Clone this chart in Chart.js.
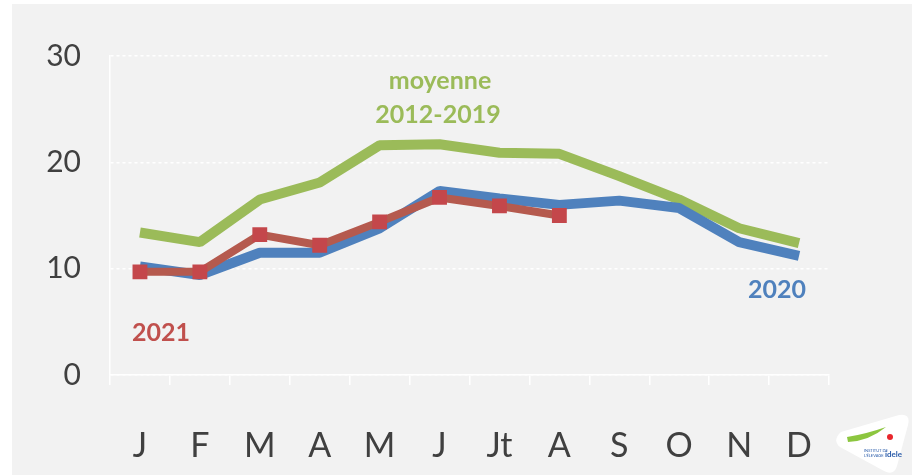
<!DOCTYPE html>
<html>
<head>
<meta charset="utf-8">
<script src="https://cdn.jsdelivr.net/npm/chart.js@4/dist/chart.umd.min.js"></script>
<style>
html,body{margin:0;padding:0;background:#ffffff;}
#c{display:block;}
</style>
</head>
<body>
<canvas id="c" width="912" height="475"></canvas>
<script>
const categories = ['J','F','M','A','M','J','Jt','A','S','O','N','D'];
const moyenne2012_2019 = [13.4,12.5,16.5,18.1,21.6,21.7,20.9,20.8,18.7,16.5,13.8,12.4];
const serie2020 = [10.2,9.4,11.5,11.5,13.8,17.3,16.6,16.0,16.4,15.7,12.5,11.2];
const serie2021 = [9.7,9.7,13.2,12.2,14.4,16.7,15.9,15.0,null,null,null,null];
const yTicks = [0,10,20,30];

const GREEN = '#9bbb59', BLUE = '#4f81bd', RED_LINE = '#b55a4e', RED_PT = '#c4474b';
const TXT_FONT = 'Lato, "Open Sans", "DejaVu Sans", sans-serif';

const bgPlugin = {
  id: 'bg',
  beforeDraw(chart) {
    const ctx = chart.ctx;
    ctx.save();
    ctx.fillStyle = '#ffffff';
    ctx.fillRect(0, 0, chart.width, chart.height);
    ctx.fillStyle = '#f2f2f2';
    ctx.fillRect(12, 4, chart.width - 12, chart.height - 4);
    ctx.restore();
  }
};

const annotPlugin = {
  id: 'annot',
  afterDraw(chart) {
    const ctx = chart.ctx;
    ctx.save();
    ctx.font = 'bold 25px ' + TXT_FONT;
    ctx.textAlign = 'center';
    ctx.textBaseline = 'alphabetic';
    ctx.fillStyle = GREEN;
    ctx.fillText('moyenne', 440, 89);
    ctx.fillText('2012-2019', 438, 123);
    ctx.fillStyle = '#c0504d';
    ctx.fillText('2021', 161, 341);
    ctx.fillStyle = BLUE;
    ctx.fillText('2020', 777, 298);

    // logo badge
    ctx.beginPath();
    ctx.moveTo(841, 432);
    ctx.quadraticCurveTo(832, 440, 840, 447);
    ctx.lineTo(884, 471);
    ctx.quadraticCurveTo(894, 476, 897, 466);
    ctx.lineTo(908, 425);
    ctx.quadraticCurveTo(911, 413, 899, 415);
    ctx.closePath();
    ctx.fillStyle = '#ffffff';
    ctx.fill();
    // swoosh
    ctx.beginPath();
    ctx.moveTo(847, 437);
    ctx.quadraticCurveTo(866, 434, 886, 427);
    ctx.quadraticCurveTo(869, 441, 848, 442);
    ctx.closePath();
    ctx.fillStyle = '#8cc63f';
    ctx.fill();
    ctx.fillStyle = '#e8262c';
    ctx.beginPath();
    ctx.arc(890, 437, 3, 0, Math.PI * 2);
    ctx.fill();
    ctx.font = 'bold 8px ' + TXT_FONT;
    ctx.fillStyle = '#2a5caa';
    ctx.textAlign = 'left';
    ctx.fillText('idele', 885, 457);
    ctx.font = '4px ' + TXT_FONT;
    ctx.fillText('INSTITUT DE', 864, 452);
    ctx.fillText("L'ÉLEVAGE", 864, 457);
    ctx.restore();
  }
};

new Chart(document.getElementById('c'), {
  type: 'line',
  data: {
    labels: categories,
    datasets: [
      {
        label: '2021',
        data: serie2021,
        borderColor: RED_LINE,
        backgroundColor: RED_PT,
        borderWidth: 8,
        pointStyle: 'rect',
        pointRadius: 10.5,
        pointBorderWidth: 0,
        pointBackgroundColor: RED_PT,
        borderJoinStyle: 'bevel',
        fill: false,
        spanGaps: false,
        order: 1
      },
      {
        label: '2020',
        data: serie2020,
        borderColor: BLUE,
        borderWidth: 10,
        pointRadius: 0,
        borderJoinStyle: 'bevel',
        fill: false,
        order: 2
      },
      {
        label: 'moyenne 2012-2019',
        data: moyenne2012_2019,
        borderColor: GREEN,
        borderWidth: 10,
        pointRadius: 0,
        borderJoinStyle: 'bevel',
        fill: false,
        order: 3
      }
    ]
  },
  options: {
    responsive: false,
    animation: false,
    devicePixelRatio: 1,
    layout: { padding: { left: 0, right: 83, top: 56, bottom: 0 } },
    plugins: { legend: { display: false }, tooltip: { enabled: false } },
    scales: {
      x: {
        offset: true,
        grid: { display: true, drawOnChartArea: false, color: '#ffffff', lineWidth: 1.5, tickLength: 10, offset: true },
        border: { display: true, color: '#ffffff', width: 1.5 },
        ticks: { color: '#404040', font: { family: TXT_FONT, size: 34 }, padding: 41, maxRotation: 0, autoSkip: false },
        afterFit(scale) { scale.height = 100; }
      },
      y: {
        min: 0, max: 30,
        afterBuildTicks(scale) { scale.ticks = yTicks.map(v => ({ value: v })); },
        grid: { color: '#ffffff', lineWidth: 1.5, drawTicks: false },
        border: { display: true, color: '#ffffff', width: 1.5, dash: [3, 3] },
        ticks: { color: '#404040', font: { family: TXT_FONT, size: 30 }, padding: 29 },
        afterFit(scale) { scale.width = 110; }
      }
    }
  },
  plugins: [bgPlugin, annotPlugin]
});
</script>
</body>
</html>
